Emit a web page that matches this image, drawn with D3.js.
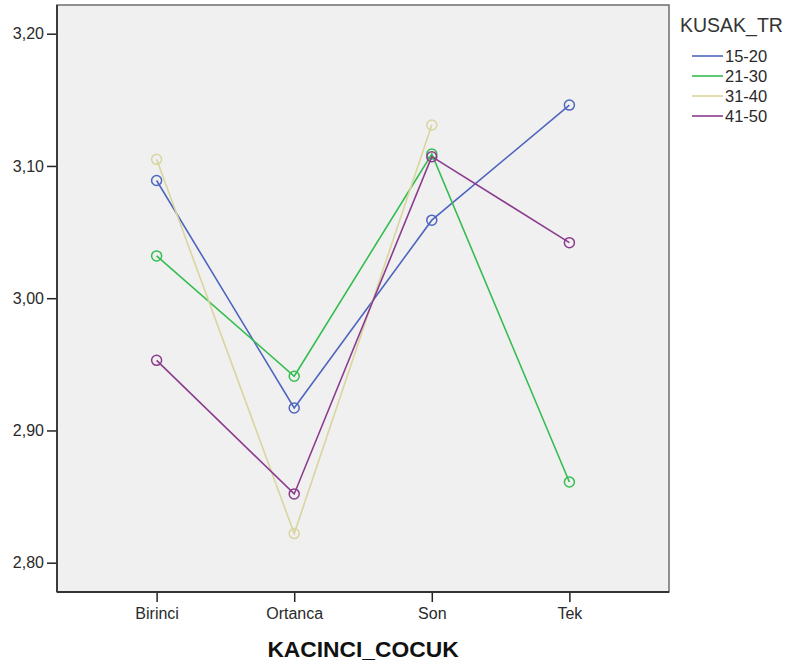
<!DOCTYPE html>
<html>
<head>
<meta charset="utf-8">
<script src="https://cdn.jsdelivr.net/npm/d3@7"></script>
<style>
  html, body { margin: 0; padding: 0; background: #ffffff; }
  svg { display: block; font-family: Arial, "Liberation Sans", sans-serif; }
</style>
</head>
<body>
<svg id="chart" width="786" height="666"></svg>
<script>
const categories = ["Birinci", "Ortanca", "Son", "Tek"];
const seriesNames = ["15-20", "21-30", "31-40", "41-50"];
const values1520 = [3.089, 2.917, 3.059, 3.146];
const values2130 = [3.032, 2.941, 3.109, 2.861];
const values3140 = [3.105, 2.822, 3.131, null];
const values4150 = [2.953, 2.852, 3.107, 3.042];
const yTicks = [2.80, 2.90, 3.00, 3.10, 3.20];
const seriesColors = ["#4f66bf", "#34bd50", "#d9d59e", "#8c3b8e"];

const seriesData = [values1520, values2130, values3140, values4150];

(function () {
const svg = d3.select("#chart");
const pLeft = 57, pRight = 669, pTop = 5, pBottom = 592;

const x = d3.scalePoint().domain(categories).range([pLeft, pRight]).padding(0.724);
const y = d3.scaleLinear().domain([2.8, 3.2]).range([562.7, 33.7]);

// plot background and frame
svg.append("rect")
  .attr("x", pLeft).attr("y", pTop)
  .attr("width", pRight - pLeft).attr("height", pBottom - pTop)
  .attr("fill", "#f0f0f0")
  .attr("stroke", "#6e6e6e")
  .attr("stroke-width", 1.5);

// y axis
const yAxis = d3.axisLeft(y).tickValues(yTicks)
  .tickFormat(d => d3.format(".2f")(d).replace(".", ","))
  .tickSize(10).tickSizeOuter(0);
const gy = svg.append("g").attr("transform", `translate(${pLeft},0)`).call(yAxis);
gy.select(".domain").remove();
gy.selectAll(".tick line").attr("stroke", "#222").attr("stroke-width", 1.5);
gy.selectAll(".tick text").attr("font-size", 16).attr("fill", "#2a2a2a")
  .attr("font-family", "Arial, 'Liberation Sans', sans-serif").attr("x", -13);

// x axis
const xAxis = d3.axisBottom(x).tickSize(10).tickSizeOuter(0);
const gx = svg.append("g").attr("transform", `translate(0,${pBottom})`).call(xAxis);
gx.select(".domain").remove();
gx.selectAll(".tick line").attr("stroke", "#222").attr("stroke-width", 1.5);
gx.selectAll(".tick text").attr("font-size", 16).attr("fill", "#2a2a2a")
  .attr("font-family", "Arial, 'Liberation Sans', sans-serif").attr("dy", 0).attr("y", 27);

// left and bottom axis lines (darker)
svg.append("line").attr("x1", pLeft).attr("x2", pLeft).attr("y1", pTop).attr("y2", pBottom)
  .attr("stroke", "#333").attr("stroke-width", 1.8);
svg.append("line").attr("x1", pLeft).attr("x2", pRight).attr("y1", pBottom).attr("y2", pBottom)
  .attr("stroke", "#333").attr("stroke-width", 1.8);

// axis title
svg.append("text")
  .attr("x", 363).attr("y", 657)
  .attr("text-anchor", "middle")
  .attr("font-size", 22.8).attr("font-weight", "bold").attr("fill", "#111")
  .text("KACINCI_COCUK");

// series lines and markers
const line = d3.line()
  .defined(d => d.v !== null)
  .x(d => x(d.c)).y(d => y(d.v));

seriesData.forEach((vals, i) => {
  const pts = categories.map((c, j) => ({ c, v: vals[j] }));
  const g = svg.append("g");
  g.append("path").datum(pts)
    .attr("d", line)
    .attr("fill", "none")
    .attr("stroke", seriesColors[i])
    .attr("stroke-width", 1.6);
  g.selectAll("circle").data(pts.filter(d => d.v !== null)).join("circle")
    .attr("cx", d => x(d.c)).attr("cy", d => y(d.v)).attr("r", 5)
    .attr("fill", "none")
    .attr("stroke", seriesColors[i])
    .attr("stroke-width", 1.5);
});

// legend
svg.append("text")
  .attr("x", 680).attr("y", 32)
  .attr("font-size", 19.5).attr("fill", "#333")
  .text("KUSAK_TR");

const lg = svg.append("g");
seriesNames.forEach((name, i) => {
  const yy = 56 + i * 20;
  lg.append("line").attr("x1", 692).attr("x2", 723).attr("y1", yy).attr("y2", yy)
    .attr("stroke", seriesColors[i]).attr("stroke-width", 1.6);
  lg.append("text").attr("x", 725).attr("y", yy + 6)
    .attr("font-size", 16.5).attr("fill", "#2a2a2a")
    .text(name);
});
})();
</script>
</body>
</html>
